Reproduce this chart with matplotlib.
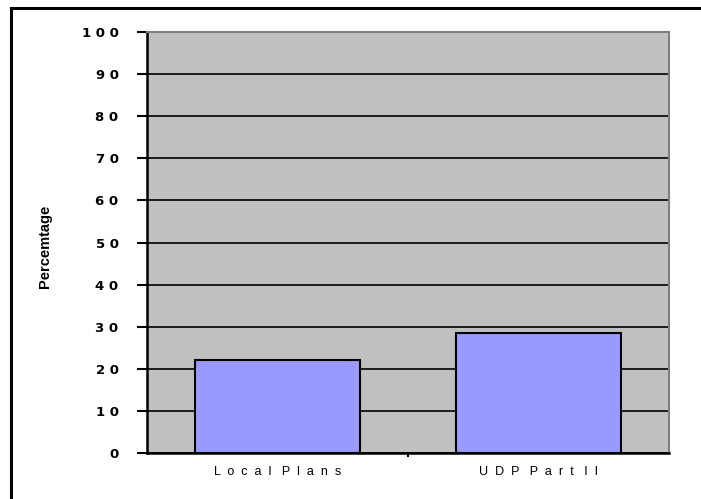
import numpy as np
import matplotlib
matplotlib.use("Agg")
import matplotlib.pyplot as plt
from matplotlib.patches import Rectangle

# data
categories = ["Local Plans", "UDP Part II"]
values = [22.1, 28.5]
yticks = [0, 10, 20, 30, 40, 50, 60, 70, 80, 90, 100]

def spaced(s, gap=" ", word_gap="  "):
    # the original shows wide character spacing
    return word_gap.join(gap.join(w) for w in s.split(" "))

fig = plt.figure(figsize=(7.01, 4.99), dpi=100)
ax = fig.add_axes([147/701, 1 - 453.3/499, (669 - 147)/701, (453.3 - 31.7)/499])

ax.set_facecolor("#C0C0C0")
x = np.arange(len(categories))
ax.bar(x, values, width=0.63, color="#9999FF", edgecolor="black", linewidth=1.5, zorder=3)

ax.set_xlim(-0.5, len(categories) - 0.5)
ax.set_ylim(0, 100)
ax.set_yticks(yticks)
ax.set_yticklabels([spaced(str(t)) for t in yticks], fontsize=9.5, fontweight="heavy",
                   family="DejaVu Sans")
ax.yaxis.grid(True, color="black", linewidth=1.2, zorder=1)
ax.set_axisbelow(True)
ax.tick_params(axis="y", length=7.5, width=1.5, pad=13, direction="out")

ax.set_xticks(x)
ax.set_xticklabels([spaced(c, "  ", "   ") for c in categories], fontsize=9,
                   family="Liberation Sans")
ax.set_xticks([0.5], minor=True)
ax.tick_params(axis="x", which="major", length=0, pad=9)
ax.tick_params(axis="x", which="minor", length=3, width=1.5, direction="out")

for side in ["left", "bottom"]:
    ax.spines[side].set_linewidth(1.8)
    ax.spines[side].set_color("black")
for side in ["right", "top"]:
    ax.spines[side].set_linewidth(1.5)
    ax.spines[side].set_color("#808080")

fig.text(45/701, 1 - 246/499, "Percemtage", rotation=90, ha="center", va="center",
         fontsize=10.5, fontweight="bold", family="Liberation Sans")

# figure border (only left and top edges fall inside the image)
fig.patches.append(Rectangle((11/701, -0.1), 1.2, 1 - 8/499 + 0.1, transform=fig.transFigure,
                             fill=False, edgecolor="black", linewidth=2.2, clip_on=False))

fig.savefig("out.png", dpi=100)
